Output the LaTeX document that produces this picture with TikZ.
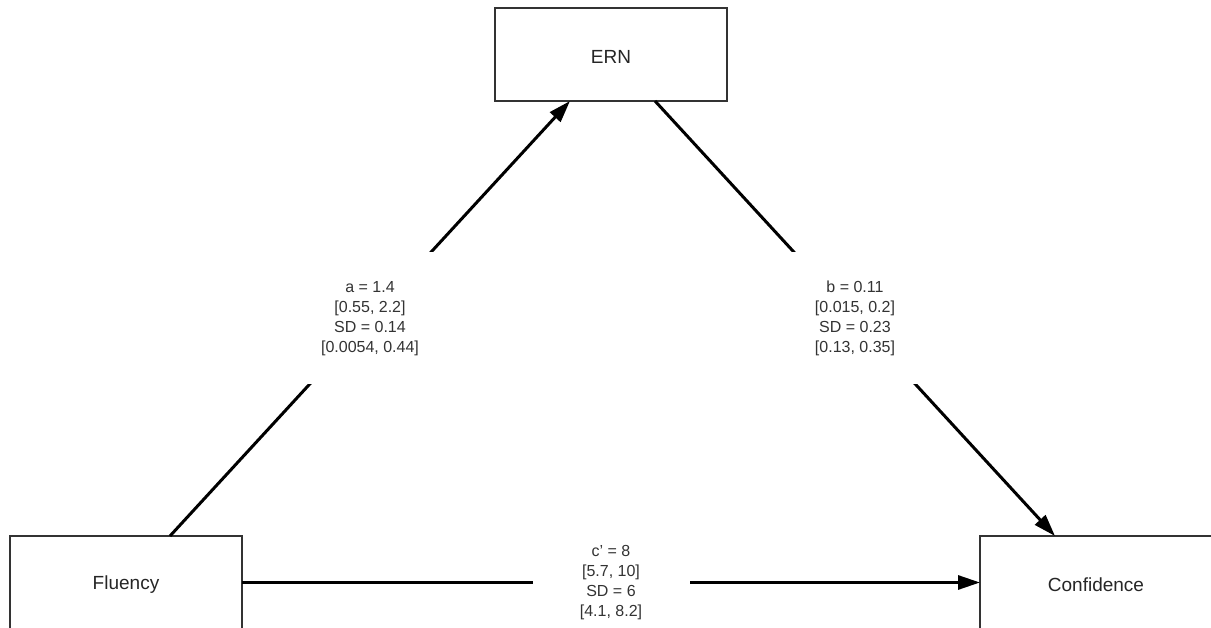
\documentclass[tikz,border=0pt]{standalone}
\usepackage{fontspec}
\setmainfont{Liberation Sans}[Ligatures=ResetAll]
\usetikzlibrary{arrows.meta}
\begin{document}
\begin{tikzpicture}[x=1pt,y=-1pt,
  box/.style={draw=black!80, line width=1.4pt, fill=white, minimum width=232pt, minimum height=93pt, outer sep=0pt, inner sep=0pt, font=\fontsize{19}{22}\selectfont, text=black!85},
  boxlabel/.style={font=\fontsize{19}{22}\selectfont, text=black!85, inner sep=0pt},
  conn/.style={line width=3pt, black, -{Triangle[length=22pt,width=14pt]}},
  gap/.style={fill=white, minimum width=157pt, minimum height=132pt, align=center, inner sep=0pt, font=\fontsize{16}{20}\selectfont, text=black!80}]
\useasboundingbox (0,0) rectangle (1211,628);
\clip (0,0) rectangle (1211,628);
\fill[white] (0,0) rectangle (1211,628);
\node[box] (E) at (611,54.5) {};
\node[box] (F) at (126,582.5) {};
\node[box] (C) at (1096,582.5) {};
\node[boxlabel] (Et) at (611,57) {ERN};
\node[boxlabel] (Ft) at (126,585) {Fluency};
\node[boxlabel] (Ct) at (1096,585) {Confidence};
\draw[conn] ([xshift=44pt]F.north) -- node[gap, pos=0.5] (la) {a = 1.4\\{[0.55, 2.2]}\\SD = 0.14\\{[0.0054, 0.44]}} ([xshift=-41pt]E.south);
\draw[conn] ([xshift=44pt]E.south) -- node[gap, pos=0.5] (lb) {b = 0.11\\{[0.015, 0.2]}\\SD = 0.23\\{[0.13, 0.35]}} ([xshift=-41pt]C.north);
\draw[conn] (F.east) -- node[gap, pos=0.5] (lc) {c' = 8\\{[5.7, 10]}\\SD = 6\\{[4.1, 8.2]}} (C.west);
\end{tikzpicture}
\end{document}
